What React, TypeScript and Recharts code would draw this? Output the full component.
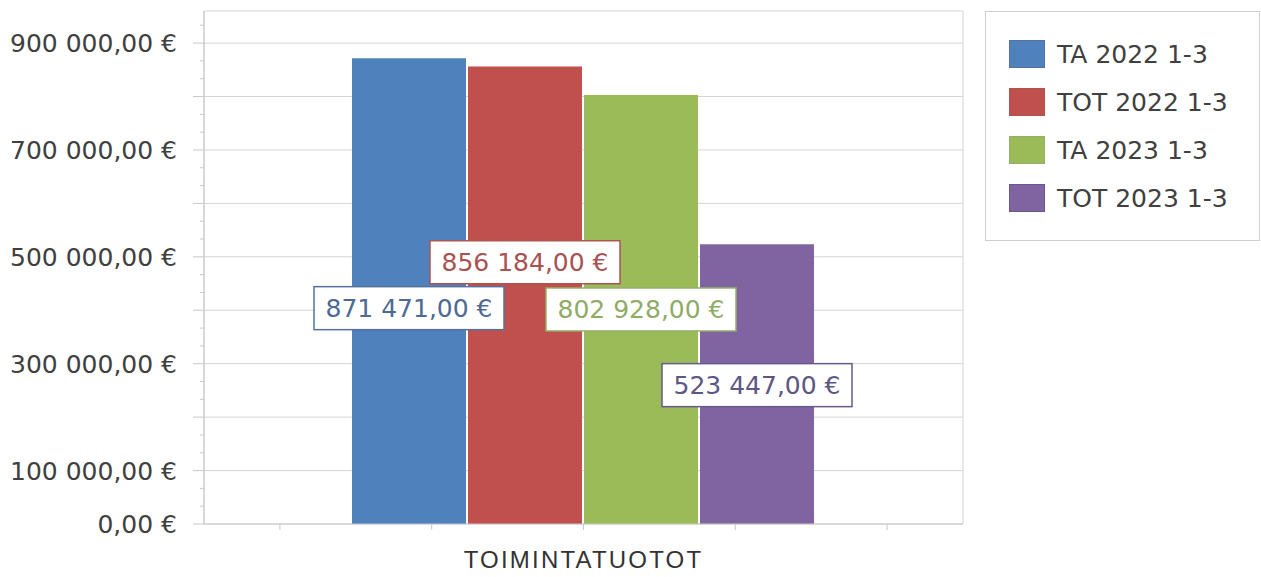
import React from "react";
import { BarChart, Bar, XAxis, YAxis, CartesianGrid, LabelList, ReferenceArea } from "recharts";

const CATEGORIES = ["TOIMINTATUOTOT"];
const SERIES_NAMES = ["TA 2022 1-3", "TOT 2022 1-3", "TA 2023 1-3", "TOT 2023 1-3"];
const TA_2022 = [871471];
const TOT_2022 = [856184];
const TA_2023 = [802928];
const TOT_2023 = [523447];

const Y_MAX = 960000;
const Y_LABEL_TICKS = [0, 100000, 300000, 500000, 700000, 900000];
const Y_GRID_TICKS = [0, 100000, 200000, 300000, 400000, 500000, 600000, 700000, 800000, 900000];
// minor ticks every third of a step
const Y_MINOR_TICKS: number[] = [];
for (let k = 1; k < 29; k++) if (k % 3 !== 0) Y_MINOR_TICKS.push((k * 100000) / 3);
const Y_ALL_TICKS = [...Y_GRID_TICKS, ...Y_MINOR_TICKS].sort((a, b) => a - b);
// x tick marks: offsets from the category centre, in fifths of the axis width
const X_MARK_STEPS = [-2, -1, 0, 1, 2];

const SERIES = [
  { key: "ta22", values: TA_2022, fill: "#4f81bd", text: "#4d6a94", border: "#56729c", dy: 17 },
  { key: "tot22", values: TOT_2022, fill: "#c0504d", text: "#a85252", border: "#ac5451", dy: -33 },
  { key: "ta23", values: TA_2023, fill: "#9bbb59", text: "#8fab66", border: "#94af6a", dy: 0 },
  { key: "tot23", values: TOT_2023, fill: "#8064a2", text: "#5e5684", border: "#665a8c", dy: 1 },
];

const data = CATEGORIES.map((name, i) => {
  const row: Record<string, string | number> = { name };
  SERIES.forEach((s) => (row[s.key] = s.values[i]));
  return row;
});

const FONT = "'DejaVu Sans', Verdana, sans-serif";
const AXIS = "#c8c8c8";
const GRID = "#d4d4d4";

const fmt = (v: number) => {
  const [i, d] = v.toFixed(2).split(".");
  return i.replace(/\B(?=(\d{3})+(?!\d))/g, " ") + "," + d + " €";
};

const YTick = (props: any) => {
  const { x, y, payload } = props;
  const v = payload.value;
  const major = Y_GRID_TICKS.includes(v);
  return (
    <g>
      <line x1={x - (major ? 11 : 4)} x2={x} y1={y} y2={y} stroke={AXIS} />
      {Y_LABEL_TICKS.includes(v) && (
        <text x={x - 27} y={y} dy="0.36em" textAnchor="end" fontSize={25} fontFamily={FONT} fill="#404040">
          {fmt(v)}
        </text>
      )}
    </g>
  );
};

const XLabel = (props: any) => {
  const { x, y, width, payload } = props;
  return (
    <g>
      {X_MARK_STEPS.map((k) => (
        <line key={k} x1={x + (k * width) / 5} x2={x + (k * width) / 5} y1={y} y2={y + 6} stroke={AXIS} />
      ))}
      <text
        x={x}
        y={y + 44}
        textAnchor="middle"
        fontSize={24}
        fontFamily="'Liberation Sans', Arial, sans-serif"
        letterSpacing={2.2}
        fill="#333"
      >
        {payload.value}
      </text>
    </g>
  );
};

const makeLabel = (s: (typeof SERIES)[number]) => (props: any) => {
  const vb = props.viewBox ?? {};
  const x = Number(props.x ?? vb.x);
  const y = Number(props.y ?? vb.y);
  const w = Number(props.width ?? vb.width);
  const h = Number(props.height ?? vb.height);
  const cx = x + w / 2;
  const cy = y + h / 2 + s.dy;
  return (
    <g>
      <rect x={cx - 95} y={cy - 21.5} width={190} height={43} fill="#fff" stroke={s.border} strokeWidth={1.5} />
      <text x={cx} y={cy} dy="0.36em" textAnchor="middle" fontSize={25} fontFamily={FONT} fill={s.text}>
        {fmt(Number(props.value))}
      </text>
    </g>
  );
};

export default function App() {
  return (
    <div style={{ position: "absolute", left: 0, top: 0, width: 1261, height: 577, background: "#fff" }}>
      <BarChart
        width={1261}
        height={577}
        data={data}
        margin={{ top: 11, left: 203, right: 298, bottom: 52 }}
        barCategoryGap={148}
        barGap={2}
      >
        <CartesianGrid vertical={false} horizontalValues={Y_GRID_TICKS.slice(1)} stroke={GRID} />
        <ReferenceArea y1={0} y2={Y_MAX} fill="none" stroke={GRID} ifOverflow="visible" />
        <YAxis
          type="number"
          domain={[0, Y_MAX]}
          ticks={Y_ALL_TICKS}
          interval={0}
          width={1}
          tickSize={0}
          tickMargin={0}
          tickLine={false}
          axisLine={{ stroke: AXIS }}
          tick={<YTick />}
          allowDataOverflow
        />
        <XAxis
          dataKey="name"
          height={1}
          tickSize={0}
          tickMargin={0}
          tickLine={false}
          interval={0}
          axisLine={{ stroke: AXIS }}
          tick={<XLabel />}
        />
        {SERIES.map((s, i) => (
          <Bar key={s.key} dataKey={s.key} name={SERIES_NAMES[i]} fill={s.fill} isAnimationActive={false}>
            <LabelList dataKey={s.key} content={makeLabel(s)} />
          </Bar>
        ))}
      </BarChart>

      <div
        style={{
          position: "absolute",
          left: 985,
          top: 11,
          width: 275,
          height: 230,
          boxSizing: "border-box",
          border: "1px solid #d0d0d0",
          paddingTop: 28,
          paddingLeft: 23,
          fontFamily: FONT,
          fontSize: 25,
          color: "#404040",
        }}
      >
        {SERIES.map((s, i) => (
          <div key={s.key} style={{ display: "flex", alignItems: "center", height: 48, marginTop: i === 0 ? -10 : 0 }}>
            <div
              style={{
                width: 36,
                height: 28,
                background: s.fill,
                border: `1px solid ${s.border}`,
                boxSizing: "border-box",
                marginRight: 12,
                flexShrink: 0,
              }}
            />
            <span>{SERIES_NAMES[i]}</span>
          </div>
        ))}
      </div>
    </div>
  );
}
